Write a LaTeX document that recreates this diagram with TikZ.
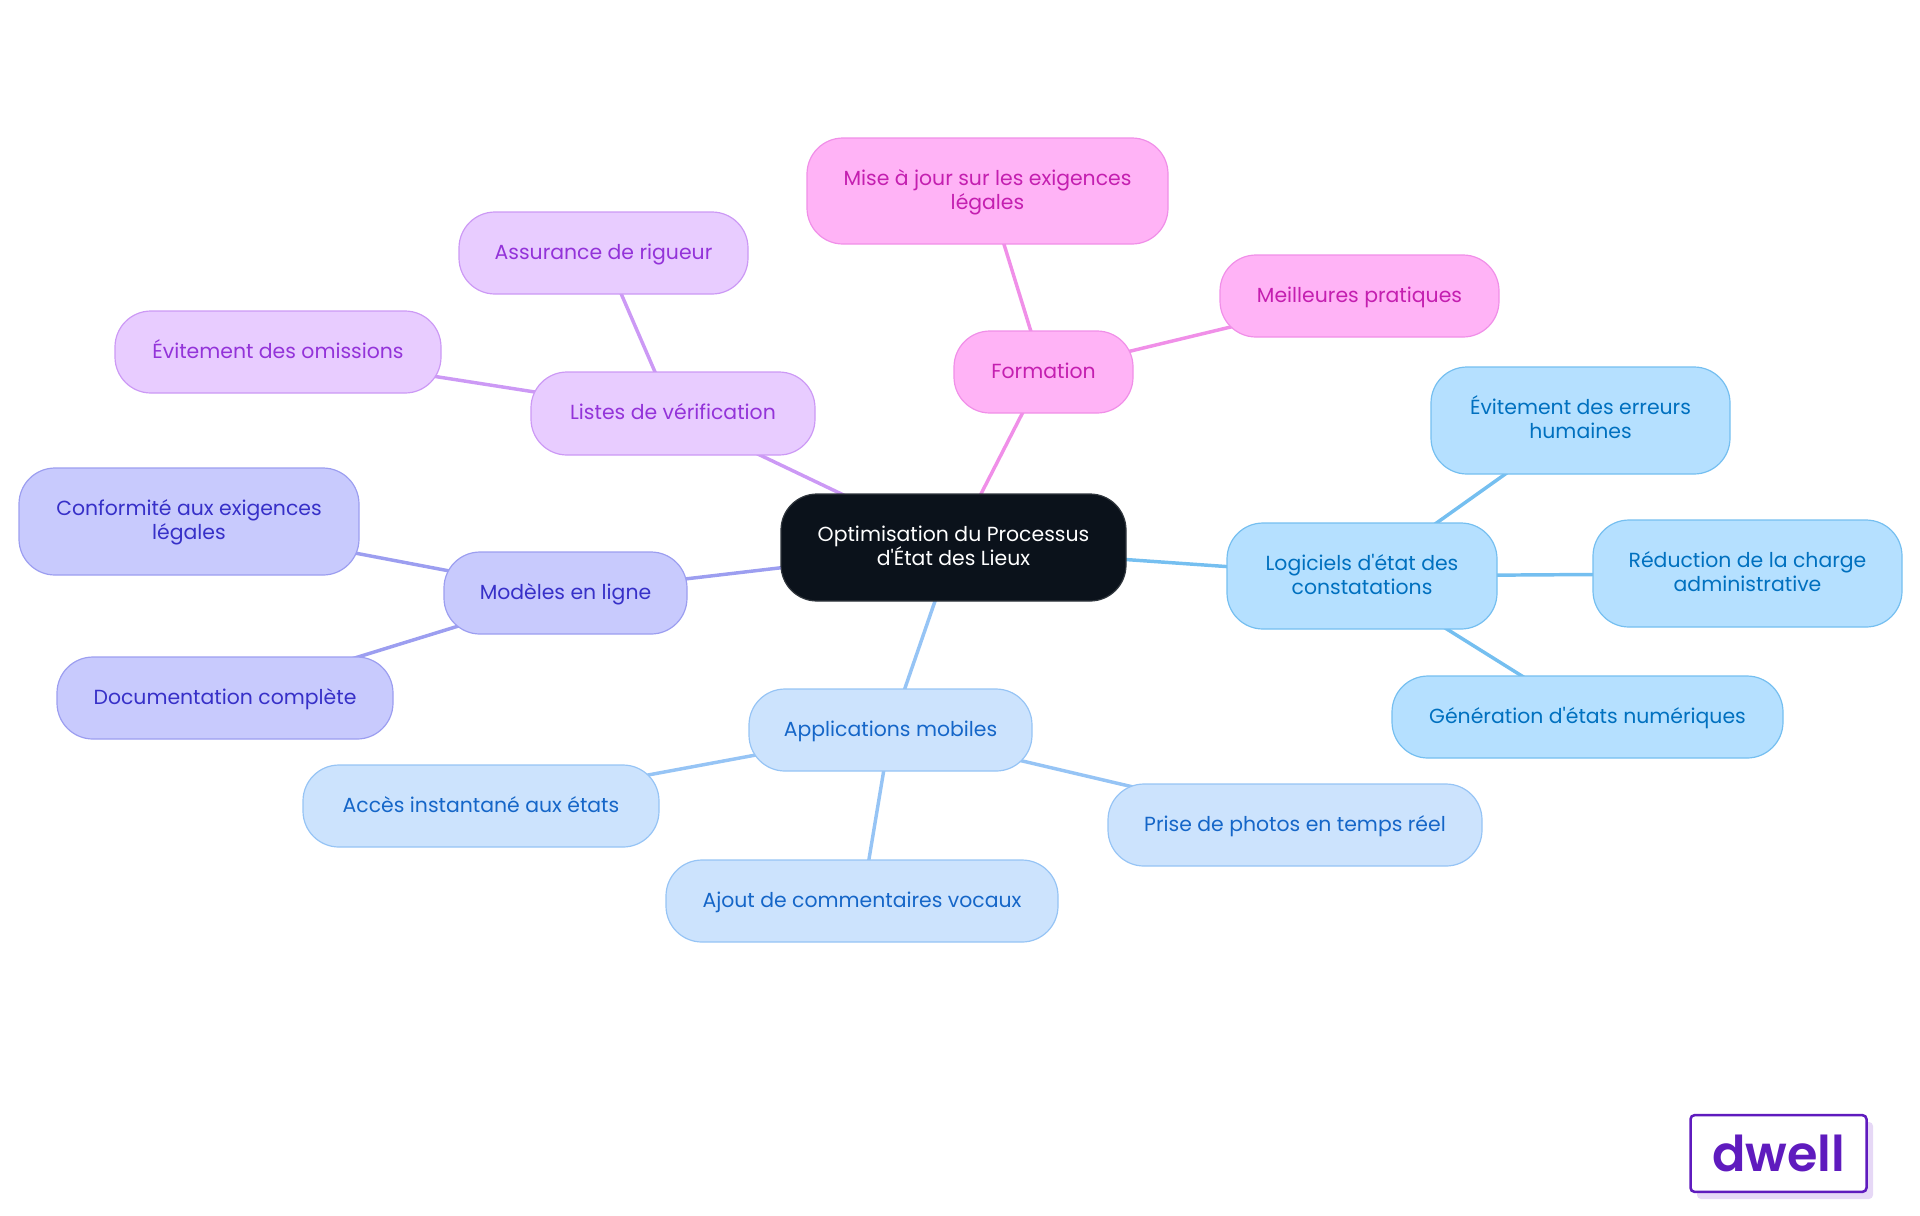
\documentclass[tikz,border=0pt]{standalone}
\usepackage{fontspec}
\newfontfamily\boxfont{Poppins}
\newfontfamily\logofont{Poppins}[UprightFont=* SemiBold]
\usetikzlibrary{backgrounds}
\definecolor{cenFill}{HTML}{0B121B}\definecolor{cenLine}{HTML}{30363D}
\definecolor{forFill}{HTML}{FFB3F6}\definecolor{forLine}{HTML}{F08FE8}\definecolor{forText}{HTML}{C41FB0}
\definecolor{lisFill}{HTML}{E8CCFF}\definecolor{lisLine}{HTML}{CC99F5}\definecolor{lisText}{HTML}{9333D9}
\definecolor{modFill}{HTML}{C8CAFD}\definecolor{modLine}{HTML}{9C9EF0}\definecolor{modText}{HTML}{3730C8}
\definecolor{appFill}{HTML}{CCE3FD}\definecolor{appLine}{HTML}{96C4F5}\definecolor{appText}{HTML}{1566C8}
\definecolor{logFill}{HTML}{B5E0FF}\definecolor{logLine}{HTML}{75BFF0}\definecolor{logText}{HTML}{0070BF}
\definecolor{dwell}{HTML}{5F1BBE}\definecolor{dwellShadow}{HTML}{E6D8F6}
\tikzset{
  x=0.75pt,y=-0.75pt,
  box/.style n args={3}{draw=#2,fill=#1,text=#3,line width=0.9pt,rounded corners=27pt,inner sep=0pt,
    font=\boxfont\fontsize{15.3pt}{18pt}\selectfont},
  forbox/.style={box={forFill}{forLine}{forText}},
  lisbox/.style={box={lisFill}{lisLine}{lisText}},
  modbox/.style={box={modFill}{modLine}{modText}},
  appbox/.style={box={appFill}{appLine}{appText}},
  logbox/.style={box={logFill}{logLine}{logText}},
  cenbox/.style={box={cenFill}{cenLine}{white}},
  edge/.style={line width=2.6pt},
}
% \bx{style}{name}{left}{top}{right}{bottom}{text}
\newcommand{\bx}[7]{%
  \pgfmathsetmacro{\bxw}{(#5-#3)*0.75}\pgfmathsetmacro{\bxh}{(#6-#4)*0.75}%
  \node[#1,minimum width=\bxw pt,minimum height=\bxh pt] (#2) at ({(#3+#5)/2},{(#4+#6)/2}) {#7};}
\newcommand{\oneL}[1]{\makebox[0pt]{\raisebox{-4.8pt}[0pt][0pt]{#1}}}
\newcommand{\twoL}[2]{\makebox[0pt]{\raisebox{4.2pt}[0pt][0pt]{#1}}\makebox[0pt]{\raisebox{-13.8pt}[0pt][0pt]{#2}}}
\begin{document}
\begin{tikzpicture}
\useasboundingbox (0,0) rectangle (1920,1215);
\bx{cenbox}{c}{781}{494}{1126}{601}{\twoL{Optimisation du Processus}{d'État des Lieux}}
\bx{forbox}{f}{954}{331}{1133}{413}{\oneL{Formation}}
\bx{forbox}{f1}{807}{138}{1168}{244}{\twoL{Mise à jour sur les exigences}{légales}}
\bx{forbox}{f2}{1220}{255}{1499}{337}{\oneL{Meilleures pratiques}}
\bx{lisbox}{l}{531}{372}{815}{455}{\oneL{Listes de vérification}}
\bx{lisbox}{l1}{459}{212}{748}{294}{\oneL{Assurance de rigueur}}
\bx{lisbox}{l2}{115}{311}{441}{393}{\oneL{Évitement des omissions}}
\bx{modbox}{m}{444}{552}{687}{634}{\oneL{Modèles en ligne}}
\bx{modbox}{m1}{19}{468}{359}{575}{\twoL{Conformité aux exigences}{légales}}
\bx{modbox}{m2}{57}{657}{393}{739}{\oneL{Documentation complète}}
\bx{appbox}{a}{749}{689}{1032}{771}{\oneL{Applications mobiles}}
\bx{appbox}{a1}{303}{765}{659}{847}{\oneL{Accès instantané aux états}}
\bx{appbox}{a2}{666}{860}{1058}{942}{\oneL{Ajout de commentaires vocaux}}
\bx{appbox}{a3}{1108}{784}{1482}{866}{\oneL{Prise de photos en temps réel}}
\bx{logbox}{g}{1227}{523}{1497}{629}{\twoL{Logiciels d'état des}{constatations}}
\bx{logbox}{g1}{1431}{367}{1730}{474}{\twoL{Évitement des erreurs}{humaines}}
\bx{logbox}{g2}{1593}{520}{1902}{627}{\twoL{Réduction de la charge}{administrative}}
\bx{logbox}{g3}{1392}{676}{1783}{758}{\oneL{Génération d'états numériques}}
\begin{scope}[on background layer]
\draw[edge,forLine] (c.center)--(f.center) (f.center)--(f1.center) (f.center)--(f2.center);
\draw[edge,lisLine] (c.center)--(l.center) (l.center)--(l1.center) (l.center)--(l2.center);
\draw[edge,modLine] (c.center)--(m.center) (m.center)--(m1.center) (m.center)--(m2.center);
\draw[edge,appLine] (c.center)--(a.center) (a.center)--(a1.center) (a.center)--(a2.center) (a.center)--(a3.center);
\draw[edge,logLine] (c.center)--(g.center) (g.center)--(g1.center) (g.center)--(g2.center) (g.center)--(g3.center);
\end{scope}
\fill[dwellShadow,rounded corners=3pt] (1697,1122) rectangle (1873,1199);
\node[draw=dwell,fill=white,line width=1.9pt,rounded corners=3pt,minimum width=132pt,minimum height=57.5pt,inner sep=0pt,
  text=dwell,font=\logofont\fontsize{37pt}{37pt}\selectfont] (logo) at (1778.5,1153.5) {dwell};
\end{tikzpicture}
\end{document}
